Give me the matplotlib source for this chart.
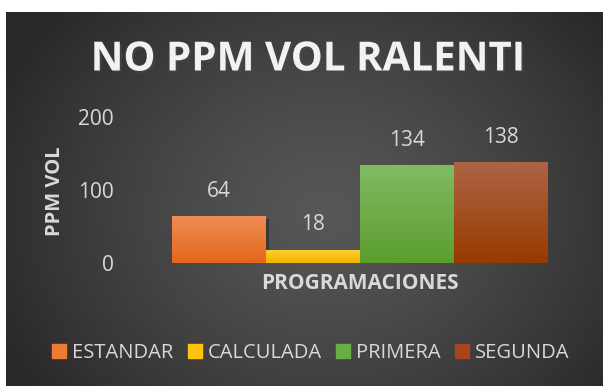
import numpy as np
import matplotlib
matplotlib.use("Agg")
import matplotlib.pyplot as plt
import matplotlib.patheffects as pe
from matplotlib.colors import LinearSegmentedColormap

plt.rcParams['font.family'] = ['Open Sans', 'DejaVu Sans']

series = ["ESTANDAR", "CALCULADA", "PRIMERA", "SEGUNDA"]
values = [64, 18, 134, 138]
yticks = [0, 100, 200]

# top / bottom colour of each bar's gradient
top_cols = ["#f08c55", "#ffcf33", "#80bb62", "#ad6444"]
bot_cols = ["#e3661c", "#f0b400", "#5c9e2e", "#983a00"]
legend_cols = ["#f07a35", "#ffc20e", "#6aad45", "#a5461c"]

W, H = 603, 386
fig = plt.figure(figsize=(W / 100, H / 100), dpi=100)
fig.patch.set_facecolor("white")

# dark radial background of the chart area
bg = fig.add_axes([6 / W, 0, (W - 6) / W, (H - 12) / H])
bg.set_axis_off()
yy, xx = np.mgrid[0:374, 0:597]
r = np.sqrt(((xx - 320) / 360.0) ** 2 + ((yy - 200) / 300.0) ** 2)
r = np.clip(r, 0, 1)
shade = 0.34 - 0.18 * r ** 1.3
bg.imshow(np.dstack([shade] * 3), aspect="auto", extent=[0, 1, 0, 1])
bg.set_xlim(0, 1)
bg.set_ylim(0, 1)

ax = fig.add_axes([172 / W, (H - 263) / H, (548 - 172) / W, (263 - 117) / H])
ax.patch.set_visible(False)
x = np.arange(len(values))
bars = ax.bar(x, values, width=1.0, color=legend_cols, zorder=2,
              path_effects=[pe.SimplePatchShadow(offset=(2, -2), shadow_rgbFace="black", alpha=0.3)])

for b, c0, c1, v in zip(bars, top_cols, bot_cols, values):
    cmap = LinearSegmentedColormap.from_list("g", [c1, c0])
    grad = np.linspace(0, 1, 64).reshape(-1, 1)
    im = ax.imshow(grad, cmap=cmap, aspect="auto", origin="lower", zorder=3,
                   extent=[b.get_x(), b.get_x() + b.get_width(), 0, b.get_height()])
    im.set_clip_path(b)
    ax.annotate(str(v), (b.get_x() + b.get_width() / 2, v), xytext=(0, 18),
                textcoords="offset points", ha="center", va="center",
                fontsize=15, color="#d9d9d9")

ax.set_xlim(-0.5, len(values) - 0.5)
ax.set_ylim(0, 200)
ax.set_yticks(yticks)
ax.set_xticks([])
ax.tick_params(axis="y", length=0, pad=42, labelsize=15, labelcolor="#d9d9d9")
for s in ax.spines.values():
    s.set_visible(False)

ax.set_xlabel("PROGRAMACIONES", fontsize=15, fontweight="bold", color="#d9d9d9", labelpad=7)
fig.text(55 / W, 1 - 191 / H, "PPM VOL", rotation=90, ha="center", va="center",
         fontsize=14.5, fontweight="bold", color="#d9d9d9")

fig.text(308 / W, 1 - 60 / H, "NO PPM VOL RALENTI", ha="center", va="center",
         fontsize=29, fontweight="bold", color="#f2f2f2",
         path_effects=[pe.SimplePatchShadow(offset=(1.5, -1.5), alpha=0.6), pe.Normal()])

handles = [plt.Rectangle((0, 0), 1, 1, color=c) for c in legend_cols]
fig.legend(handles, series, loc="center", bbox_to_anchor=(311 / W, 1 - 353 / H), ncol=4,
           frameon=False, fontsize=14.5, labelcolor="#d9d9d9", handlelength=0.7,
           handleheight=0.7, handletextpad=0.3, columnspacing=0.7)

fig.savefig("out.png", dpi=100, facecolor=fig.get_facecolor())
